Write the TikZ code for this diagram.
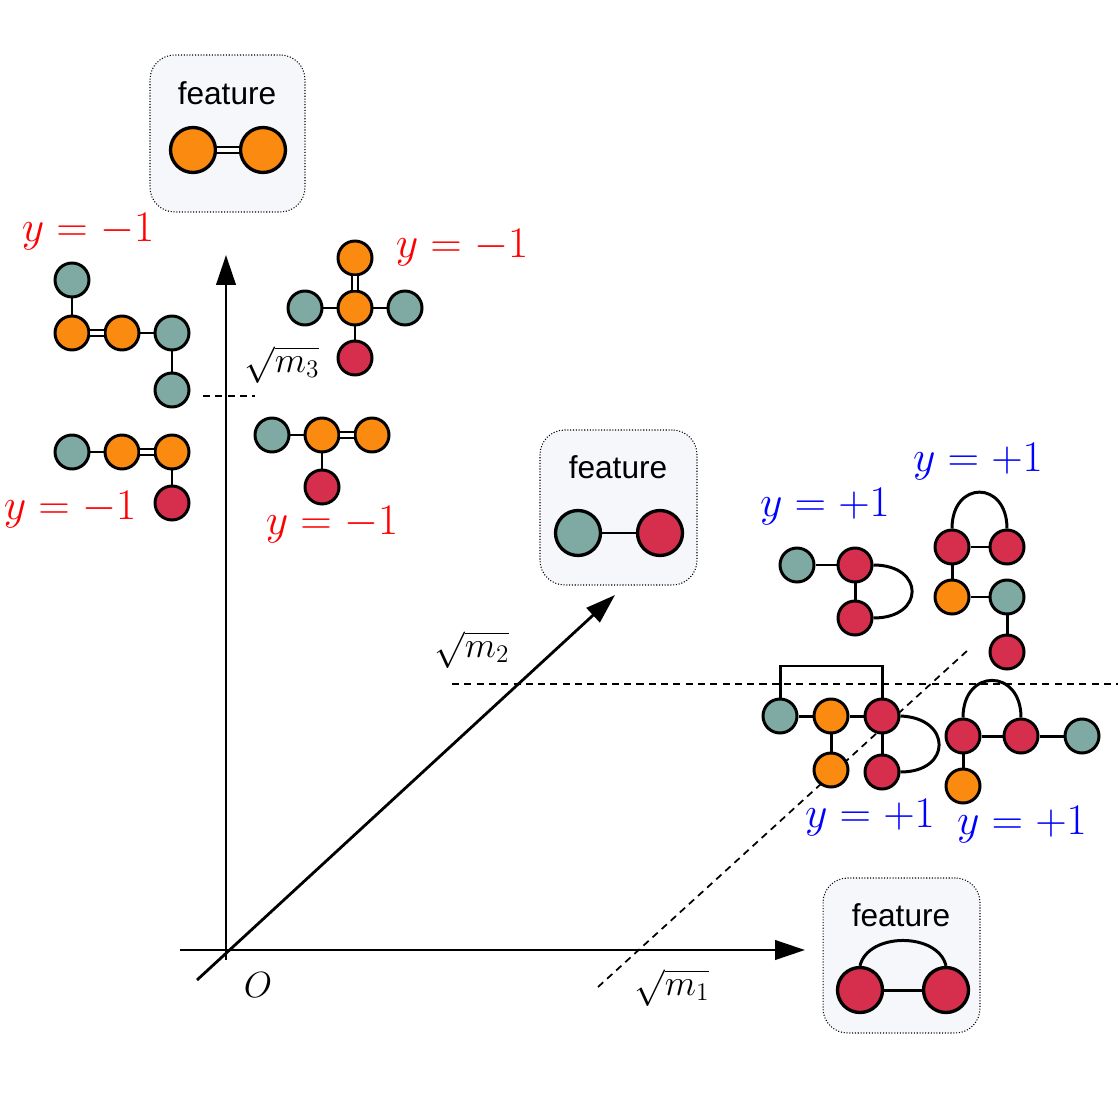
\documentclass[tikz,border=0pt]{standalone}
\usepackage{fontspec}
\setsansfont{Liberation Sans}
\usetikzlibrary{arrows.meta}
\definecolor{cteal}{HTML}{7FAAA3}
\definecolor{corange}{HTML}{FB8A10}
\definecolor{cred}{HTML}{D62F4E}
\definecolor{cbox}{HTML}{F5F7FA}
\begin{document}
\begin{tikzpicture}[x=0.02cm,y=-0.02cm,
  myatom/.style={circle,draw=black,line width=1.7pt,inner sep=0pt,minimum size=0.68cm},
  mybigatom/.style={circle,draw=black,line width=1.9pt,inner sep=0pt,minimum size=0.9cm},
  atT/.style={myatom,fill=cteal}, atO/.style={myatom,fill=corange}, atR/.style={myatom,fill=cred},
  mybond/.style={line width=1.7pt},
  mydbl/.style={line width=1.3pt,double,double distance=1.8pt},
  myaxis/.style={line width=1.6pt},
  myarr/.style={myaxis,-{Triangle[length=17pt,width=11pt]}},
  myguide/.style={line width=1pt,dash pattern=on 4pt off 3pt},
  mybox/.style={draw,densely dotted,line width=0.6pt,rounded corners=14pt,fill=cbox},
  neglab/.style={text=red,font=\fontsize{23}{28}\selectfont},
  poslab/.style={text=blue,font=\fontsize{23}{28}\selectfont},
  featlab/.style={font=\sffamily\fontsize{18}{22}\selectfont},
  axlab/.style={font=\fontsize{21}{26}\selectfont}]
\useasboundingbox (0,0) rectangle (1118,1118);
% dashed guides
\coordinate (d1a) at (203,396); \coordinate (d1b) at (255,396);
\coordinate (d2a) at (452,684); \coordinate (d2b) at (1118,684);
\coordinate (d3a) at (598,987); \coordinate (d3b) at (968,650);
\draw[myguide] (d1a) -- (d1b);
\draw[myguide] (d2a) -- (d2b);
\draw[myguide] (d3a) -- (d3b);
% axes
\coordinate (o) at (226,950);
\coordinate (yt) at (226,255); \coordinate (xl) at (180,950); \coordinate (xr) at (805,950);
\coordinate (zl) at (197,980); \coordinate (zt) at (615,595);
\draw[myarr] (o) -- (yt);
\draw[myarr] (xl) -- (xr);
\draw[myarr] (zl) -- (zt);
\draw[myaxis] (o) -- (226,960);
\node[axlab] (lo) at (258,985) {$O$};
\node[axlab] (l1) at (672,988) {$\sqrt{m_1}$};
\node[axlab] (l2) at (472,650) {$\sqrt{m_2}$};
\node[axlab] (l3) at (282,365) {$\sqrt{m_3}$};
% feature boxes
\node[mybox,minimum width=3.1cm,minimum height=3.14cm] (b1) at (227.5,133.5) {};
\node[featlab] (f1) at (227,93) {feature};
\node[mybigatom,fill=corange] (b1a) at (193,150) {};
\node[mybigatom,fill=corange] (b1b) at (263,150) {};
\draw[line width=1.5pt,double,double distance=2pt] (b1a) -- (b1b);

\node[mybox,minimum width=3.14cm,minimum height=3.1cm] (b2) at (618.5,507.5) {};
\node[featlab] (f2) at (618,467) {feature};
\node[mybigatom,fill=cteal] (b2a) at (578,533) {};
\node[mybigatom,fill=cred] (b2b) at (660,533) {};
\draw[mybond] (b2a) -- (b2b);

\node[mybox,minimum width=3.14cm,minimum height=3.1cm] (b3) at (901.5,955.5) {};
\node[featlab] (f3) at (901,915) {feature};
\node[mybigatom,fill=cred] (b3a) at (860,990) {};
\node[mybigatom,fill=cred] (b3b) at (946,990) {};
\draw[mybond] (b3a) -- (b3b);
\draw[mybond] (b3a.north) .. controls (868,932) and (938,932) .. (b3b.north);
% molecule A
\node[atT] (a1) at (72,280) {};
\node[atO] (a2) at (72,333) {};
\node[atO] (a3) at (122,333) {};
\node[atT] (a4) at (172,333) {};
\node[atT] (a5) at (172,390) {};
\draw[mybond] (a1) -- (a2); \draw[mydbl] (a2) -- (a3); \draw[mybond] (a3) -- (a4); \draw[mybond] (a4) -- (a5);
% molecule B
\node[atT] (bb1) at (72,452) {};
\node[atO] (bb2) at (122,452) {};
\node[atO] (bb3) at (172,452) {};
\node[atR] (bb4) at (172,503) {};
\draw[mybond] (bb1) -- (bb2); \draw[mydbl] (bb2) -- (bb3); \draw[mybond] (bb3) -- (bb4);
% molecule C
\node[atO] (c1) at (355,258) {};
\node[atO] (c2) at (355,308) {};
\node[atT] (c3) at (305,308) {};
\node[atT] (c4) at (405,308) {};
\node[atR] (c5) at (355,358) {};
\draw[mydbl] (c1) -- (c2); \draw[mybond] (c3) -- (c2); \draw[mybond] (c2) -- (c4); \draw[mybond] (c2) -- (c5);
% molecule D
\node[atT] (dd1) at (272,435) {};
\node[atO] (dd2) at (322,435) {};
\node[atO] (dd3) at (372,435) {};
\node[atR] (dd4) at (322,487) {};
\draw[mybond] (dd1) -- (dd2); \draw[mydbl] (dd2) -- (dd3); \draw[mybond] (dd2) -- (dd4);
% negative labels
\node[neglab] (n1) at (88,232) {$y=-1$};
\node[neglab] (n2) at (462,248) {$y=-1$};
\node[neglab] (n3) at (70,510) {$y=-1$};
\node[neglab] (n4) at (332,525) {$y=-1$};
% molecule E
\node[atT] (e1) at (797,565) {};
\node[atR] (e2) at (855,565) {};
\node[atR] (e3) at (855,618) {};
\draw[mybond] (e1) -- (e2); \draw[mybond] (e2) -- (e3);
\draw[mybond] (e2.east) .. controls (925,565) and (925,618) .. (e3.east);
% molecule F
\node[atR] (g1) at (952,547) {};
\node[atR] (g2) at (1007,547) {};
\node[atO] (g3) at (952,597) {};
\node[atT] (g4) at (1007,597) {};
\node[atR] (g5) at (1007,652) {};
\draw[mybond] (g1) -- (g2); \draw[mybond] (g1) -- (g3); \draw[mybond] (g3) -- (g4); \draw[mybond] (g4) -- (g5);
\draw[mybond] (g1.north) .. controls (952,480) and (1007,480) .. (g2.north);
% molecule G
\node[atT] (h1) at (780,716) {};
\node[atO] (h2) at (831,716) {};
\node[atR] (h3) at (882,716) {};
\node[atO] (h4) at (831,770) {};
\node[atR] (h5) at (882,772) {};
\draw[mybond] (h1) -- (h2); \draw[mybond] (h2) -- (h3); \draw[mybond] (h2) -- (h4); \draw[mybond] (h3) -- (h5);
\draw[mybond] (h1.north) -- (780,666) -- (882,666) -- (h3.north);
\draw[mybond] (h3.east) .. controls (952,718) and (952,772) .. (h5.east);
% molecule H
\node[atR] (k1) at (963,736) {};
\node[atR] (k2) at (1021,736) {};
\node[atT] (k3) at (1082,736) {};
\node[atO] (k4) at (963,786) {};
\draw[mybond] (k1) -- (k2); \draw[mybond] (k2) -- (k3); \draw[mybond] (k1) -- (k4);
\draw[mybond] (k1.north) .. controls (963,668) and (1021,668) .. (k2.north);
% positive labels
\node[poslab] (p1) at (825,507) {$y=+1$};
\node[poslab] (p2) at (978,462) {$y=+1$};
\node[poslab] (p3) at (870,818) {$y=+1$};
\node[poslab] (p4) at (1022,825) {$y=+1$};
\end{tikzpicture}
\end{document}
